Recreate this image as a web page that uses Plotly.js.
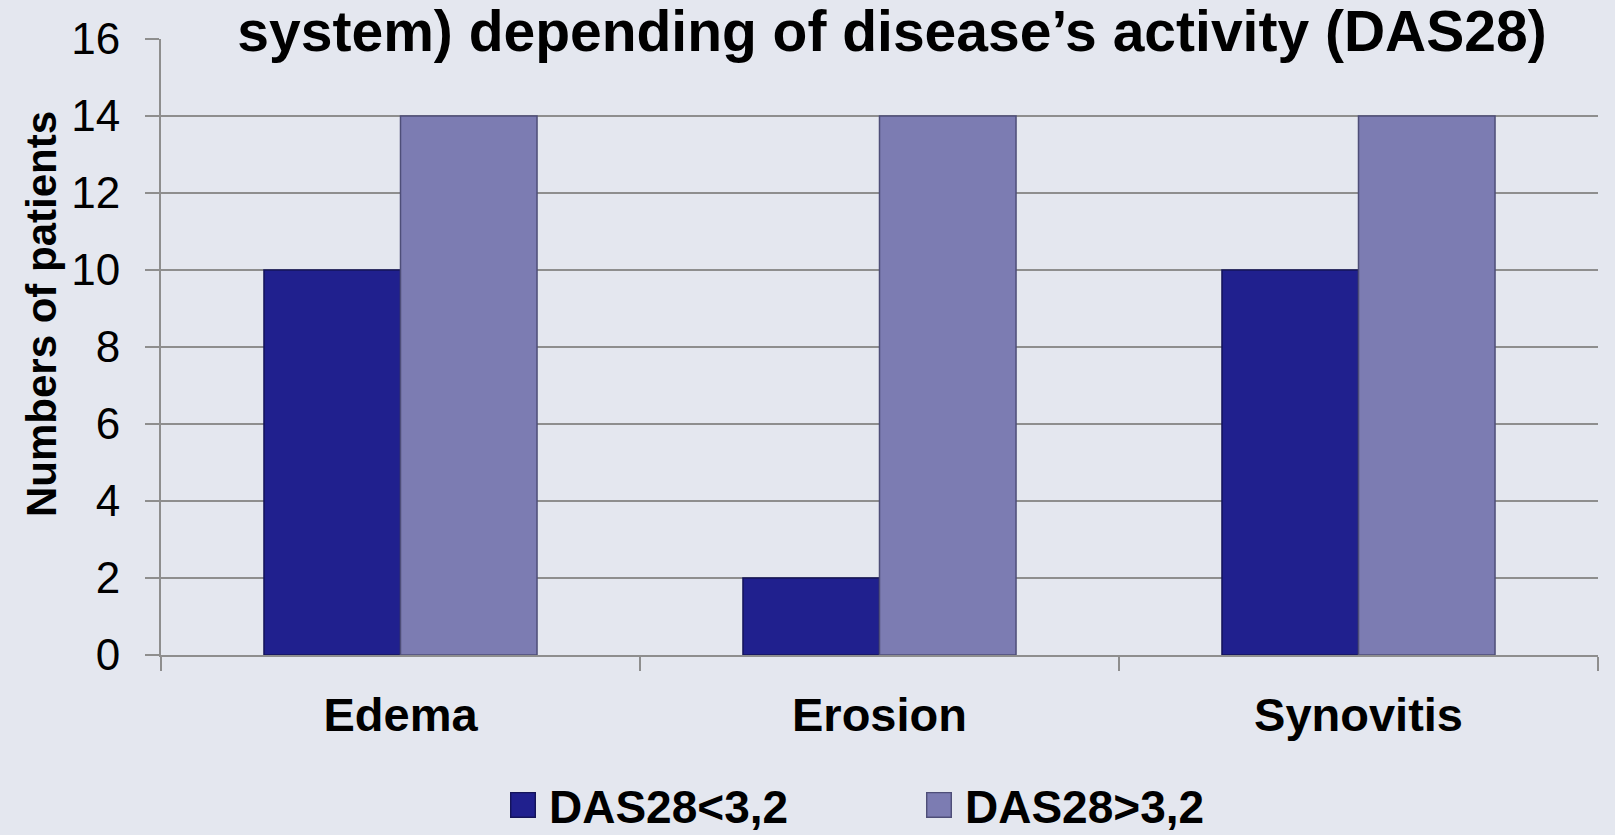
<!DOCTYPE html>
<html>
<head>
<meta charset="utf-8">
<script src="https://cdn.plot.ly/plotly-3.0.1.min.js"></script>
<style>
html,body{margin:0;padding:0;background:#e4e7ef;}
#chart{width:1615px;height:835px;}
</style>
</head>
<body>
<div id="chart"></div>
<script>
const categories = ["Edema", "Erosion", "Synovitis"];
const seriesNames = ["DAS28<3,2", "DAS28>3,2"];
const lowActivity = [10, 2, 10];
const highActivity = [14, 14, 14];
const yTicks = [0, 2, 4, 6, 8, 10, 12, 14, 16];
const titleText = "system) depending of disease\u2019s activity (DAS28)";
const yTitle = "Numbers of patients";

const FONT = "Liberation Sans, Arial, sans-serif";
const GRID = "#8e8e8e";

const traces = [
  {
    type: "bar", name: seriesNames[0], x: categories, y: lowActivity,
    marker: {color: "#20208e", line: {color: "#14145a", width: 1.5}},
    hoverinfo: "x+y+name"
  },
  {
    type: "bar", name: seriesNames[1], x: categories, y: highActivity,
    marker: {color: "#7c7cb2", line: {color: "#4e4e78", width: 1.5}},
    hoverinfo: "x+y+name"
  }
];

const layout = {
  width: 1615, height: 835,
  paper_bgcolor: "#e4e7ef", plot_bgcolor: "#e4e7ef",
  margin: {l: 161, r: 17, t: 39, b: 180},
  barmode: "group", bargap: 0.43, bargroupgap: 0,
  font: {family: FONT, color: "#000"},
  title: {
    text: titleText, font: {family: FONT, size: 57, color: "#000", weight: "bold"},
    x: 892 / 1615, xanchor: "center", xref: "container",
    y: 1 - 31 / 835, yanchor: "middle", yref: "container"
  },
  xaxis: {
    type: "category", tickson: "boundaries", automargin: false,
    showline: true, linecolor: GRID, linewidth: 2,
    ticks: "outside", ticklen: 14, tickwidth: 2, tickcolor: GRID,
    showgrid: false, zeroline: false,
    tickfont: {family: FONT, size: 47, color: "#000", weight: "bold"},
    ticklabelstandoff: 18
  },
  yaxis: {
    range: [0, 16], tickvals: yTicks, ticktext: yTicks.map(String), automargin: false,
    showline: true, linecolor: GRID, linewidth: 2,
    ticks: "outside", ticklen: 14, tickwidth: 2, tickcolor: GRID,
    showgrid: true, gridcolor: GRID, gridwidth: 2, zeroline: false,
    tickfont: {family: FONT, size: 44, color: "#000"},
    ticklabelstandoff: 16
  },
  annotations: [{
    text: yTitle, textangle: -90, showarrow: false,
    xref: "paper", yref: "paper", x: (41 - 161) / 1437, y: (655 - 314) / 616,
    xanchor: "center", yanchor: "middle",
    font: {family: FONT, size: 42, color: "#000", weight: "bold"}
  }],
  showlegend: true,
  legend: {
    orientation: "h", xref: "container", yref: "container",
    x: 509 / 1615, xanchor: "left", y: 1 - 805 / 835, yanchor: "middle",
    font: {family: FONT, size: 46, color: "#000", weight: "bold"},
    bgcolor: "rgba(0,0,0,0)", entrywidth: 371, entrywidthmode: "pixels"
  }
};

Plotly.newPlot("chart", traces, layout, {displayModeBar: false, staticPlot: true}).then(function (gd) {
  gd.querySelectorAll(".legendpoints path").forEach(function (p) {
    p.setAttribute("transform", "translate(14,0) scale(2.05)");
    p.style.strokeWidth = "0.7px";
  });
});
</script>
</body>
</html>
